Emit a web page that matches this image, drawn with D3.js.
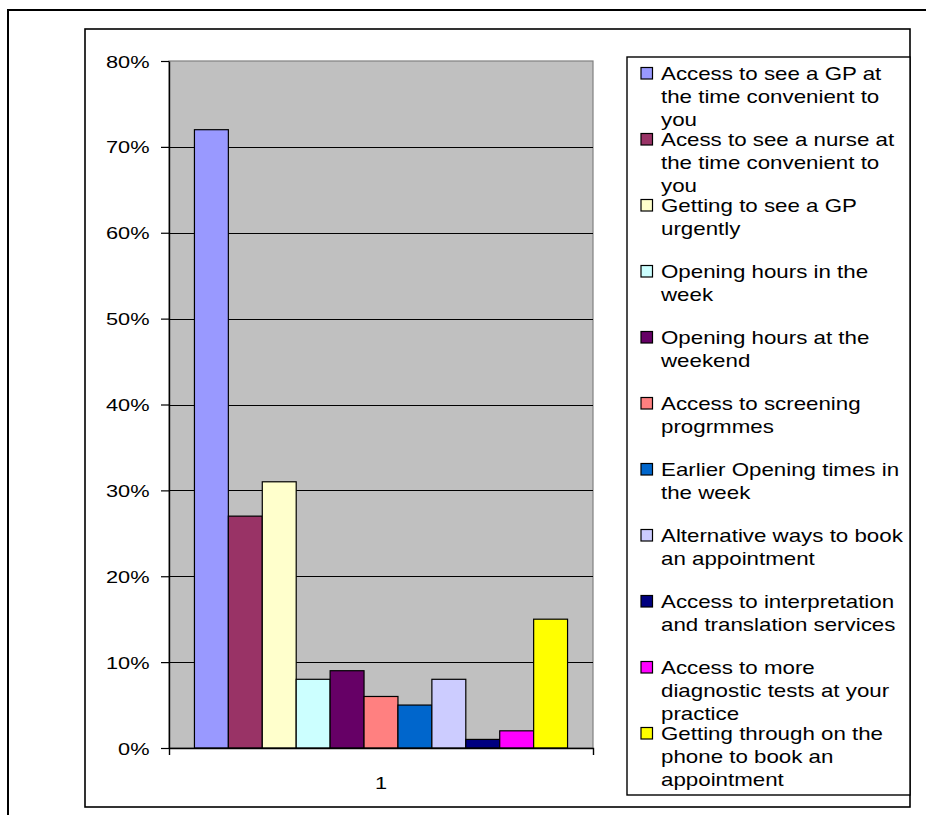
<!DOCTYPE html>
<html>
<head>
<meta charset="utf-8">
<script src="https://cdn.jsdelivr.net/npm/d3@7"></script>
<style>
  html, body { margin: 0; padding: 0; background: #fff; }
  svg { display: block; font-family: Arial, "Liberation Sans", sans-serif; }
</style>
</head>
<body>
<svg id="chart" width="926" height="815"></svg>
<script>
// ---- data ----
const categories = ["1"];
const seriesNames = [
  "Access to see a GP at the time convenient to you",
  "Acess to see a nurse at the time convenient to you",
  "Getting to see a GP urgently",
  "Opening hours in the week",
  "Opening hours at the weekend",
  "Access to screening progrmmes",
  "Earlier Opening times in the week",
  "Alternative ways to book an appointment",
  "Access to interpretation and translation services",
  "Access to more diagnostic tests at your practice",
  "Getting through on the phone to book an appointment"
];
const legendLines = [
  ["Access to see a GP at", "the time convenient to", "you"],
  ["Acess to see a nurse at", "the time convenient to", "you"],
  ["Getting to see a GP", "urgently"],
  ["Opening hours in the", "week"],
  ["Opening hours at the", "weekend"],
  ["Access to screening", "progrmmes"],
  ["Earlier Opening times in", "the week"],
  ["Alternative ways to book", "an appointment"],
  ["Access to interpretation", "and translation services"],
  ["Access to more", "diagnostic tests at your", "practice"],
  ["Getting through on the", "phone to book an", "appointment"]
];
const seriesValues = [0.72, 0.27, 0.31, 0.08, 0.09, 0.06, 0.05, 0.08, 0.01, 0.02, 0.15];
const seriesColors = ["#9999FF", "#993366", "#FFFFCC", "#CCFFFF", "#660066", "#FF8080",
                      "#0066CC", "#CCCCFF", "#000080", "#FF00FF", "#FFFF00"];
const yTicks = [0, 0.1, 0.2, 0.3, 0.4, 0.5, 0.6, 0.7, 0.8];

// ---- layout ----
const svg = d3.select("#chart");
const plot = { left: 169, right: 593, top: 61, bottom: 748 };
const SX = 1.32; // horizontal text stretch of the original picture

// outer frame
svg.append("path")
  .attr("d", "M8,820 L8,10 L930,10")
  .attr("fill", "none").attr("stroke", "#000").attr("stroke-width", 2);
// chart area frame
svg.append("rect")
  .attr("x", 85).attr("y", 29).attr("width", 825).attr("height", 778)
  .attr("fill", "#fff").attr("stroke", "#000").attr("stroke-width", 1.6);

const y = d3.scaleLinear().domain([0, 0.8]).range([plot.bottom, plot.top]);
const x0 = d3.scaleBand().domain(categories).range([plot.left, plot.right]);
const x1 = d3.scaleBand().domain(seriesNames).range([plot.left, plot.right])
  .paddingInner(0).paddingOuter(0.75);

// plot background
svg.append("rect")
  .attr("x", plot.left).attr("y", plot.top)
  .attr("width", plot.right - plot.left).attr("height", plot.bottom - plot.top)
  .attr("fill", "#C0C0C0").attr("stroke", "#808080").attr("stroke-width", 1.2);

// gridlines
svg.append("g").selectAll("line")
  .data(yTicks.filter(t => t > 0 && t < 0.8))
  .join("line")
  .attr("x1", plot.left).attr("x2", plot.right)
  .attr("y1", d => Math.round(y(d)) + 0.5).attr("y2", d => Math.round(y(d)) + 0.5)
  .attr("stroke", "#000").attr("stroke-width", 1);

// bars
svg.append("g").selectAll("rect")
  .data(seriesValues)
  .join("rect")
  .attr("x", (d, i) => x1(seriesNames[i]))
  .attr("y", d => y(d))
  .attr("width", x1.bandwidth())
  .attr("height", d => y(0) - y(d))
  .attr("fill", (d, i) => seriesColors[i])
  .attr("stroke", "#000").attr("stroke-width", 1.2);

// y axis
const yAxis = d3.axisLeft(y).tickValues(yTicks).tickSize(8).tickSizeOuter(0)
  .tickFormat(d3.format(".0%"));
const gy = svg.append("g").attr("transform", `translate(${plot.left},0)`).call(yAxis);
gy.select(".domain").attr("stroke", "#000").attr("stroke-width", 1.4);
gy.selectAll(".tick line").attr("stroke", "#000").attr("stroke-width", 1.2);
gy.selectAll(".tick text").each(function(d) {
  const t = d3.select(this);
  t.attr("x", null).attr("dy", null)
   .attr("text-anchor", "end")
   .attr("font-size", 16.5).attr("fill", "#000")
   .attr("font-family", "Arial, 'Liberation Sans', sans-serif")
   .attr("transform", `translate(-19.5,6) scale(${SX},1)`);
});

// x axis
const xAxis = d3.axisBottom(x0).tickSize(0).tickSizeOuter(7);
const gx = svg.append("g").attr("transform", `translate(0,${plot.bottom})`).call(xAxis);
gx.select(".domain").attr("stroke", "#000").attr("stroke-width", 1.4);
gx.selectAll(".tick text")
  .attr("y", null).attr("dy", null)
  .attr("font-size", 16.5).attr("fill", "#000")
  .attr("font-family", "Arial, 'Liberation Sans', sans-serif")
  .attr("text-anchor", "middle")
  .attr("transform", `translate(0,41) scale(${SX},1)`);

// legend
const legend = { left: 627, top: 57, right: 910, bottom: 795 };
svg.append("rect")
  .attr("x", legend.left).attr("y", legend.top)
  .attr("width", legend.right - legend.left).attr("height", legend.bottom - legend.top)
  .attr("fill", "#fff").attr("stroke", "#000").attr("stroke-width", 1.4);

const itemStep = 66, lineH = 23, firstCenter = 73;
const items = svg.append("g").selectAll("g")
  .data(seriesNames)
  .join("g")
  .attr("transform", (d, i) => `translate(0,${firstCenter + i * itemStep})`);
items.append("rect")
  .attr("x", 641).attr("y", -5.5).attr("width", 11.5).attr("height", 11.5)
  .attr("fill", (d, i) => seriesColors[i])
  .attr("stroke", "#000").attr("stroke-width", 1.2);
items.each(function(d, i) {
  const g = d3.select(this);
  legendLines[i].forEach((line, k) => {
    g.append("text")
      .attr("transform", `translate(661,${k * lineH + 6.5}) scale(1.24,1)`)
      .attr("font-size", 18).attr("fill", "#000")
      .text(line);
  });
});
</script>
</body>
</html>
